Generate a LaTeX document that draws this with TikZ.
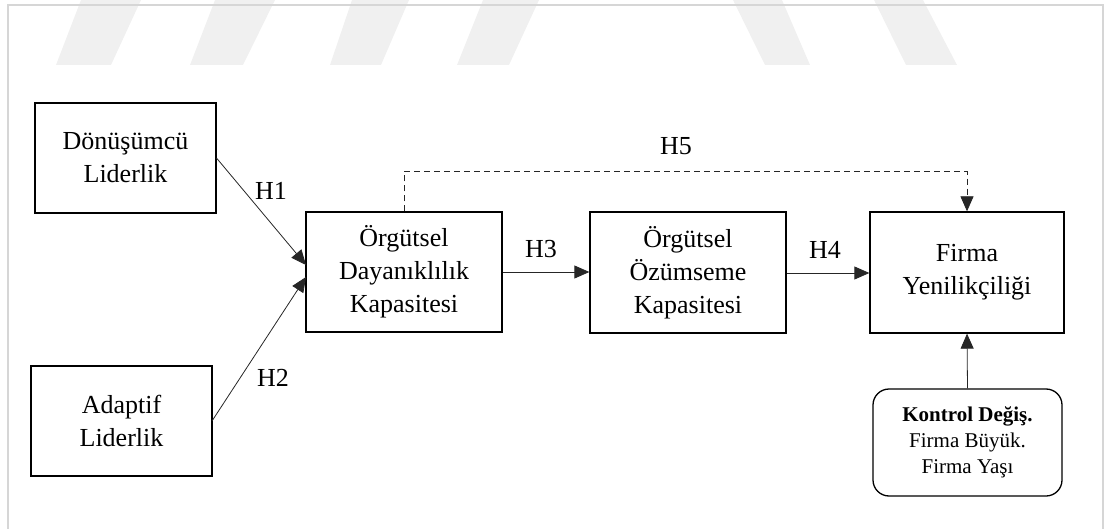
\documentclass[tikz,border=0pt]{standalone}
\usepackage{fontspec}
\setmainfont{Liberation Serif}
\usetikzlibrary{arrows.meta}
\begin{document}
\begin{tikzpicture}[x=1pt,y=-1pt,
  box/.style={draw=black,line width=1.3pt,inner sep=0pt,align=center,font=\fontsize{26}{33}\selectfont},
  ctrl/.style={draw=black,line width=1.3pt,rounded corners=16pt,inner sep=0pt,align=center,font=\fontsize{21}{26}\selectfont},
  conn/.style={line width=0.8pt,draw=black!85,-{Triangle[length=15pt,width=13pt]}},
  hlab/.style={font=\fontsize{26}{30}\selectfont,inner sep=0pt},
  frame/.style={draw=black!16,line width=2pt},
  wm/.style={fill=black!6,draw=none}]
\useasboundingbox (0,0) rectangle (1105,529);
% watermark
\fill[wm] (56,65) -- (111,65) -- (141,0) -- (81,0) -- cycle;
\fill[wm] (190,65) -- (243,65) -- (275,0) -- (215,0) -- cycle;
\fill[wm] (330,65) -- (381,65) -- (409,0) -- (352,0) -- cycle;
\fill[wm] (457,65) -- (509,65) -- (539,0) -- (483,0) -- cycle;
\fill[wm] (765,65) -- (810,65) -- (782,0) -- (733,0) -- cycle;
\fill[wm] (906,65) -- (957,65) -- (923,0) -- (874,0) -- cycle;
% frame
\draw[frame] (8,540) -- (8,5) -- (1103,5) -- (1103,540);
% nodes
\node[box,minimum width=181pt,minimum height=110pt] (don) at (125.5,158) {Dönüşümcü\\Liderlik};
\node[box,minimum width=181pt,minimum height=110pt] (ada) at (121.5,421) {Adaptif\\Liderlik};
\node[box,minimum width=196pt,minimum height=120pt] (day) at (404,272) {Örgütsel\\Dayanıklılık\\Kapasitesi};
\node[box,minimum width=196pt,minimum height=121pt] (ozu) at (688,272.5) {Örgütsel\\Özümseme\\Kapasitesi};
\node[box,minimum width=194pt,minimum height=121pt] (fir) at (967,272.5) {Firma\\Yenilikçiliği};
\node[ctrl,minimum width=189pt,minimum height=107pt] (kon) at (967.5,442.5) {\textbf{Kontrol Değiş.}\\Firma Büyük.\\Firma Yaşı};
% coordinates
\coordinate (t1) at (306,265);
\coordinate (t2) at (306,277);
\coordinate (s1) at (216.5,158);
\coordinate (s2) at (212,421);
\coordinate (d1) at (404,171.5);
\coordinate (d2) at (967,171.5);
% connectors
\draw[conn] (s1) -- (t1);
\draw[conn] (s2) -- (t2);
\draw[conn] (day.east |- 0,272) -- (ozu.west |- 0,272);
\draw[conn] (ozu.east |- 0,273) -- (fir.west |- 0,273);
\draw[conn,dashed,dash pattern=on 6pt off 4pt] (day.north) -- (d1) -- (d2) -- (fir.north);
\draw[conn] (kon.north) -- (fir.south);
% labels
\node[hlab] (h1) at (271,191) {H1};
\node[hlab] (h2) at (273,378) {H2};
\node[hlab] (h3) at (541,249) {H3};
\node[hlab] (h4) at (825,250) {H4};
\node[hlab] (h5) at (676,146) {H5};
\end{tikzpicture}
\end{document}
